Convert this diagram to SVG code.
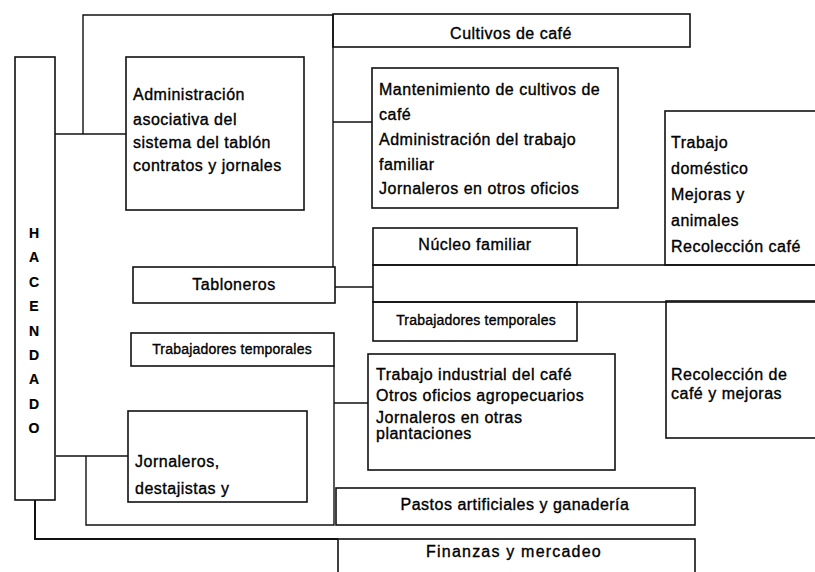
<svg xmlns="http://www.w3.org/2000/svg" width="815" height="572" viewBox="0 0 815 572">
<style>
.box{fill:none;stroke:#111;stroke-width:1.6}
.ln{fill:none;stroke:#111;stroke-width:1.4}
text{font-family:"Liberation Sans",Arial,sans-serif;font-size:16px;letter-spacing:0.5px;fill:#000;stroke:#000;stroke-width:0.35px}
.c{text-anchor:middle}
.sm{font-size:14px;letter-spacing:0.2px}
.v{font-size:14px;font-weight:bold;text-anchor:middle;letter-spacing:0;stroke-width:0.2px}
</style>
<rect width="815" height="572" fill="#fff"/>
<g id="connectors">
<path class="ln" d="M55,134 H126"/>
<path class="ln" d="M83,134 V15 H333"/>
<path class="ln" d="M333,15 V267"/>
<path class="ln" d="M333,122 H372"/>
<path class="ln" d="M335,287 H373"/>
<path class="ln" d="M334,366 V525 H86 V456"/>
<path class="ln" d="M56,456 H128"/>
<path class="ln" d="M334,403 H368"/>
<path class="ln" d="M35,500 V539 H338" style="stroke-width:2"/>
</g>
<g id="hacendado">
<rect class="box" x="15" y="57" width="40" height="443"/>
<text class="v" x="34" y="238">H</text>
<text class="v" x="34" y="262">A</text>
<text class="v" x="34" y="287">C</text>
<text class="v" x="34" y="311">E</text>
<text class="v" x="34" y="336">N</text>
<text class="v" x="34" y="360">D</text>
<text class="v" x="34" y="384">A</text>
<text class="v" x="34" y="409">D</text>
<text class="v" x="34" y="433">O</text>
</g>
<g id="cultivos">
<rect class="box" x="333" y="14" width="357" height="33"/>
<text class="c" x="511" y="39">Cultivos de café</text>
</g>
<g id="administracion">
<rect class="box" x="126" y="57" width="178" height="153"/>
<text x="133" y="100">Administración</text>
<text x="133" y="125">asociativa del</text>
<text x="133" y="148">sistema del tablón</text>
<text x="133" y="171">contratos y jornales</text>
</g>
<g id="mantenimiento">
<rect class="box" x="372" y="68" width="246" height="140"/>
<text x="379" y="95">Mantenimiento de cultivos de</text>
<text x="379" y="120">café</text>
<text x="379" y="145">Administración del trabajo</text>
<text x="379" y="170">familiar</text>
<text x="379" y="194">Jornaleros en otros oficios</text>
</g>
<g id="trabajo-domestico">
<rect class="box" x="665" y="111" width="200" height="154"/>
<text x="671" y="148">Trabajo</text>
<text x="671" y="174">doméstico</text>
<text x="671" y="200">Mejoras y</text>
<text x="671" y="226">animales</text>
<text x="671" y="252">Recolección café</text>
</g>
<g id="nucleo">
<rect class="box" x="373" y="228" width="204" height="37"/>
<text class="c" x="475" y="250">Núcleo familiar</text>
</g>
<g id="franja">
<rect class="box" x="373" y="265" width="480" height="37"/>
</g>
<g id="tabloneros">
<rect class="box" x="133" y="267" width="202" height="36"/>
<text class="c" x="234" y="290">Tabloneros</text>
</g>
<g id="temporales-der">
<rect class="box" x="373" y="302" width="204" height="39"/>
<text class="c sm" x="476" y="325">Trabajadores temporales</text>
</g>
<g id="recoleccion">
<rect class="box" x="666" y="301" width="200" height="137"/>
<text x="671" y="380">Recolección de</text>
<text x="671" y="399">café y mejoras</text>
</g>
<g id="temporales-izq">
<rect class="box" x="131" y="333" width="203" height="33"/>
<text class="c sm" x="232" y="354">Trabajadores temporales</text>
</g>
<g id="trabajo-industrial">
<rect class="box" x="368" y="354" width="247" height="116"/>
<text x="376" y="380">Trabajo industrial del café</text>
<text x="376" y="401">Otros oficios agropecuarios</text>
<text x="376" y="423">Jornaleros en otras</text>
<text x="376" y="439">plantaciones</text>
</g>
<g id="jornaleros">
<rect class="box" x="128" y="411" width="179" height="91"/>
<text x="135" y="467">Jornaleros,</text>
<text x="135" y="494">destajistas y</text>
</g>
<g id="pastos">
<rect class="box" x="336" y="488" width="359" height="37"/>
<text class="c" x="515" y="510">Pastos artificiales y ganadería</text>
</g>
<g id="finanzas">
<rect class="box" x="338" y="539" width="357" height="60"/>
<text class="c" x="514" y="557" style="letter-spacing:1.2px">Finanzas y mercadeo</text>
</g>
</svg>
